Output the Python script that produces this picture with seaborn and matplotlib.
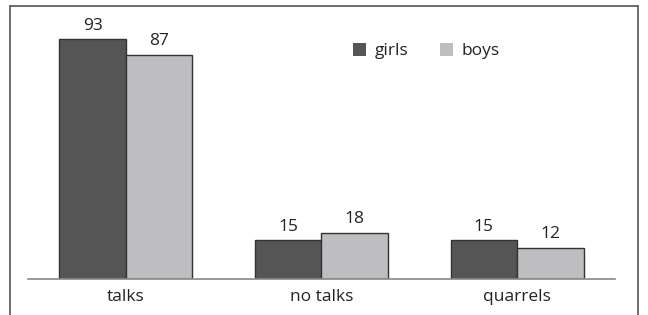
import pandas as pd
import numpy as np
import matplotlib.pyplot as plt
import seaborn as sns
from matplotlib.lines import Line2D

categories = ["talks", "no talks", "quarrels"]
girls = [93, 15, 15]
boys = [87, 18, 12]

df = pd.DataFrame({
    "category": categories * 2,
    "group": ["girls"] * 3 + ["boys"] * 3,
    "value": girls + boys,
})

sns.set_style("white")
plt.rcParams['font.family'] = ['Open Sans', 'DejaVu Sans']

fig = plt.figure(figsize=(6.48, 3.15), dpi=100)
ax = fig.add_axes([28 / 648, 36 / 315, 587 / 648, 258 / 315])

sns.barplot(data=df, x="category", y="value", hue="group", order=categories,
            hue_order=["girls", "boys"], palette=["#555555", "#bdbdc1"],
            width=0.68, edgecolor="#333333", linewidth=1, ax=ax)

for cont in ax.containers:
    ax.bar_label(cont, padding=4, fontsize=12.5, color="#222222")

ax.set_xlim(-0.5, 2.5)
ax.set_ylim(0, 100)
ax.set_xlabel("")
ax.set_ylabel("")
ax.set_yticks([])
ax.tick_params(axis="x", length=0, labelsize=12.5, colors="#222222", pad=7)
for s in ["top", "right", "left"]:
    ax.spines[s].set_visible(False)
ax.spines["bottom"].set_color("#888888")
ax.spines["bottom"].set_linewidth(1.2)

leg = ax.legend(loc="upper left", bbox_to_anchor=(0.527, 0.975), ncol=2, frameon=False,
                fontsize=12.5, handlelength=0.75, handleheight=0.75, columnspacing=1.8,
                handletextpad=0.5)
for t in leg.get_texts():
    t.set_color("#222222")
for h in leg.legend_handles:
    h.set_edgecolor("none")

# outer frame (open at bottom)
fc = "#555555"
fig.add_artist(Line2D([10 / 648, 10 / 648], [0, 1 - 6 / 315], color=fc, lw=1.2))
fig.add_artist(Line2D([10 / 648, 638 / 648], [1 - 6 / 315, 1 - 6 / 315], color=fc, lw=1.2))
fig.add_artist(Line2D([638 / 648, 638 / 648], [0, 1 - 6 / 315], color=fc, lw=1.2))

fig.savefig("out.png", dpi=100)
